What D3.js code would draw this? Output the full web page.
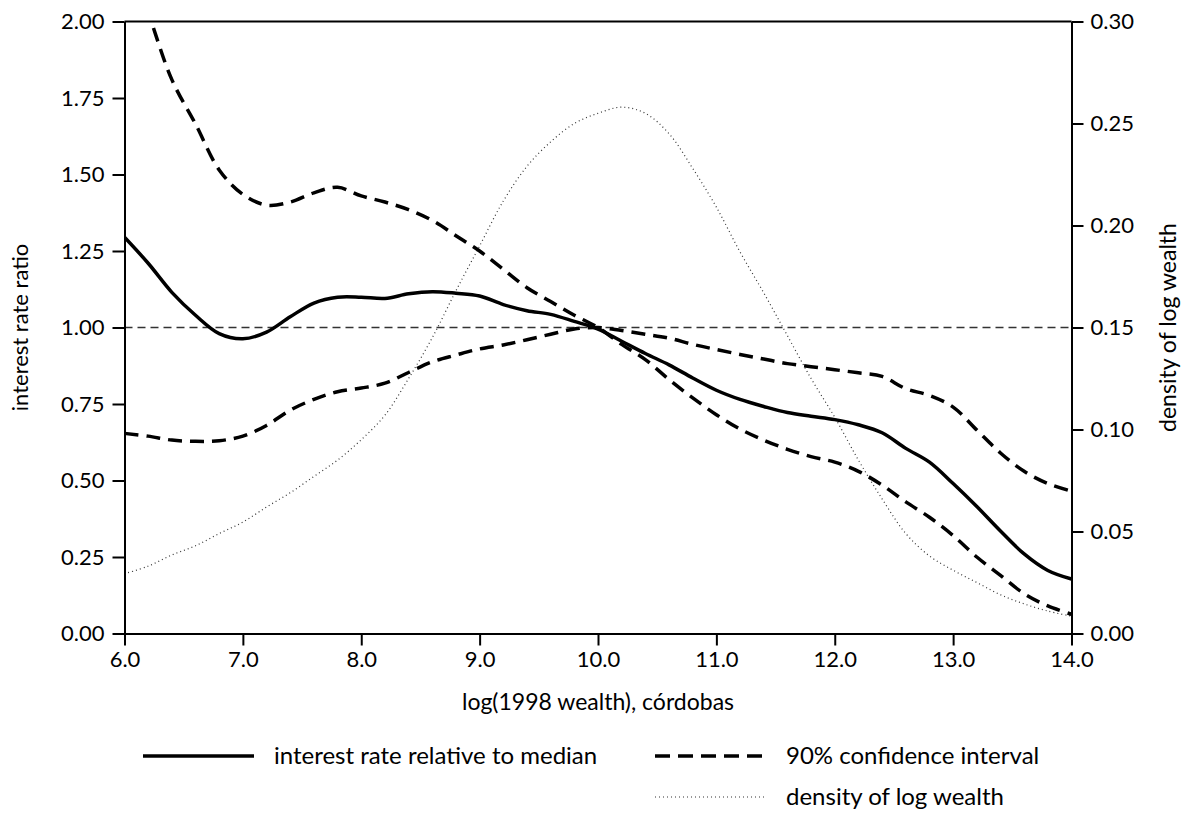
<!DOCTYPE html>
<html>
<head>
<meta charset="utf-8">
<script src="https://cdn.jsdelivr.net/npm/d3@7"></script>
<style>
  body { margin: 0; background: #fff; }
  text { font-family: Lato, "Open Sans", sans-serif; fill: #000; }
</style>
</head>
<body>
<div class="chart"></div>
<script>
// log wealth grid (0.2 steps) and the curves
var logWealth = d3.range(41).map(function(i) { return +(6 + i * 0.2).toFixed(1); });

var rateRatio = [1.295, 1.21, 1.115, 1.04, 0.98, 0.963, 0.985, 1.035, 1.08, 1.099,
  1.099, 1.095, 1.11, 1.117, 1.112, 1.103, 1.075, 1.055, 1.043, 1.02,
  0.995, 0.955, 0.915, 0.878, 0.835, 0.795, 0.765, 0.742, 0.722, 0.71,
  0.699, 0.682, 0.656, 0.605, 0.56, 0.49, 0.415, 0.335, 0.26, 0.206, 0.178];

// confidence band, first branch (upper left of 10, lower right of 10)
var ciA = [2.25, 2.03, 1.81, 1.665, 1.515, 1.435, 1.40, 1.41, 1.44, 1.458,
  1.43, 1.41, 1.385, 1.35, 1.30, 1.25, 1.19, 1.13, 1.085, 1.04,
  1.0, 0.945, 0.895, 0.83, 0.77, 0.715, 0.668, 0.632, 0.602, 0.578,
  0.56, 0.53, 0.485, 0.43, 0.38, 0.32, 0.25, 0.19, 0.13, 0.09, 0.063];

// confidence band, second branch (lower left of 10, upper right of 10)
var ciB = [0.654, 0.645, 0.632, 0.628, 0.63, 0.645, 0.68, 0.73, 0.765, 0.79,
  0.802, 0.818, 0.853, 0.888, 0.91, 0.93, 0.943, 0.96, 0.978, 0.995,
  1.0, 0.99, 0.978, 0.965, 0.945, 0.928, 0.912, 0.897, 0.882, 0.872,
  0.862, 0.852, 0.84, 0.80, 0.778, 0.74, 0.665, 0.59, 0.53, 0.49, 0.465];

var density = [0.0293, 0.033, 0.0385, 0.043, 0.049, 0.0546, 0.062, 0.069, 0.077, 0.085,
  0.095, 0.107, 0.125, 0.145, 0.168, 0.19, 0.212, 0.229, 0.241, 0.25,
  0.255, 0.258, 0.255, 0.245, 0.228, 0.209, 0.187, 0.167, 0.146, 0.125,
  0.106, 0.085, 0.066, 0.049, 0.038, 0.031, 0.025, 0.019, 0.0145, 0.011, 0.0085];

var xTicks = [6, 7, 8, 9, 10, 11, 12, 13, 14];
var yTicks = [0, 0.25, 0.5, 0.75, 1, 1.25, 1.5, 1.75, 2];
var y2Ticks = [0, 0.05, 0.1, 0.15, 0.2, 0.25, 0.3];

var legendItems = [
  { label: "interest rate relative to median", style: "solid" },
  { label: "90% confidence interval", style: "dash" },
  { label: "density of log wealth", style: "dot" }
];

// Chart setup
var svgWidth = 1185;
var svgHeight = 816;
var margin = { top: 21.5, right: 113.5, bottom: 182.5, left: 124.5 };
var width = svgWidth - margin.left - margin.right;
var height = svgHeight - margin.top - margin.bottom;

var svg = d3.select(".chart")
  .append("svg")
  .attr("width", svgWidth)
  .attr("height", svgHeight);

var chart = svg.append("g")
  .attr("transform", "translate(" + margin.left + "," + margin.top + ")");

var x = d3.scaleLinear().domain([6, 14]).range([0, width]);
var y = d3.scaleLinear().domain([0, 2]).range([height, 0]);
var y2 = d3.scaleLinear().domain([0, 0.3]).range([height, 0]);

svg.append("defs").append("clipPath").attr("id", "plotclip")
  .append("rect").attr("x", 0).attr("y", 0).attr("width", width).attr("height", height);

var plot = chart.append("g").attr("clip-path", "url(#plotclip)");

var line = d3.line()
  .x(function(d) { return x(d[0]); })
  .y(function(d) { return y(d[1]); })
  .curve(d3.curveCatmullRom.alpha(0.5));

var line2 = d3.line()
  .x(function(d) { return x(d[0]); })
  .y(function(d) { return y2(d[1]); })
  .curve(d3.curveCatmullRom.alpha(0.5));

function pairs(vals) {
  return logWealth.map(function(w, i) { return [w, vals[i]]; });
}

// reference line at 1
plot.append("line")
  .attr("x1", 0).attr("x2", width)
  .attr("y1", y(1)).attr("y2", y(1))
  .attr("stroke", "#333")
  .attr("stroke-width", 1.6)
  .attr("stroke-dasharray", "8,5");

// density (right axis)
plot.append("path")
  .attr("d", line2(pairs(density)))
  .attr("fill", "none")
  .attr("stroke", "#333")
  .attr("stroke-width", 1.2)
  .attr("stroke-dasharray", "1,3");

// confidence band
[ciA, ciB].forEach(function(ci) {
  plot.append("path")
    .attr("d", line(pairs(ci)))
    .attr("fill", "none")
    .attr("stroke", "#000")
    .attr("stroke-width", 3.5)
    .attr("stroke-dasharray", "14,8");
});

// interest rate ratio
plot.append("path")
  .attr("d", line(pairs(rateRatio)))
  .attr("fill", "none")
  .attr("stroke", "#000")
  .attr("stroke-width", 3.5);

// axes
var bottomAxis = d3.axisBottom(x).tickValues(xTicks).tickFormat(d3.format(".1f"))
  .tickSize(12).tickPadding(6).tickSizeOuter(0);
var leftAxis = d3.axisLeft(y).tickValues(yTicks).tickFormat(d3.format(".2f"))
  .tickSize(12).tickPadding(8).tickSizeOuter(0);
var rightAxis = d3.axisRight(y2).tickValues(y2Ticks).tickFormat(d3.format(".2f"))
  .tickSize(12).tickPadding(7).tickSizeOuter(0);

function styleAxis(g) {
  g.selectAll("path").attr("stroke", "#000").attr("stroke-width", 2);
  g.selectAll("line").attr("stroke", "#000").attr("stroke-width", 2);
  g.selectAll("text").style("font-size", "22px").attr("fill", "#000");
}

chart.append("g")
  .attr("transform", "translate(0," + height + ")")
  .call(bottomAxis).call(styleAxis);
chart.append("g").call(leftAxis).call(styleAxis);
chart.append("g")
  .attr("transform", "translate(" + width + ",0)")
  .call(rightAxis).call(styleAxis);

// top frame line
chart.append("line")
  .attr("x1", 0).attr("x2", width).attr("y1", 0).attr("y2", 0)
  .attr("stroke", "#000").attr("stroke-width", 2);

// axis titles
chart.append("text")
  .attr("x", width / 2)
  .attr("y", height + 76)
  .attr("text-anchor", "middle")
  .style("font-size", "23px")
  .text("log(1998 wealth), córdobas");

chart.append("text")
  .attr("transform", "translate(" + (-97) + "," + (height / 2) + ") rotate(-90)")
  .attr("text-anchor", "middle")
  .style("font-size", "22px")
  .text("interest rate ratio");

chart.append("text")
  .attr("transform", "translate(" + (width + 104) + "," + (height / 2) + ") rotate(-90)")
  .attr("text-anchor", "middle")
  .style("font-size", "23px")
  .text("density of log wealth");

// legend
var legendPos = [
  { x: 143, y: 756 },
  { x: 655, y: 756 },
  { x: 655, y: 797 }
];

var legend = svg.append("g");
legendItems.forEach(function(item, i) {
  var p = legendPos[i];
  var l = legend.append("line")
    .attr("x1", p.x).attr("x2", p.x + 111)
    .attr("y1", p.y).attr("y2", p.y)
    .attr("stroke", item.style === "dot" ? "#333" : "#000");
  if (item.style === "solid") {
    l.attr("stroke-width", 3.5);
  } else if (item.style === "dash") {
    l.attr("stroke-width", 3.5).attr("stroke-dasharray", "15,8");
  } else {
    l.attr("stroke-width", 1.2).attr("stroke-dasharray", "1,3");
  }
  legend.append("text")
    .attr("x", p.x + 131)
    .attr("y", p.y)
    .attr("dy", "0.35em")
    .style("font-size", "24px")
    .text(item.label);
});
</script>
</body>
</html>
